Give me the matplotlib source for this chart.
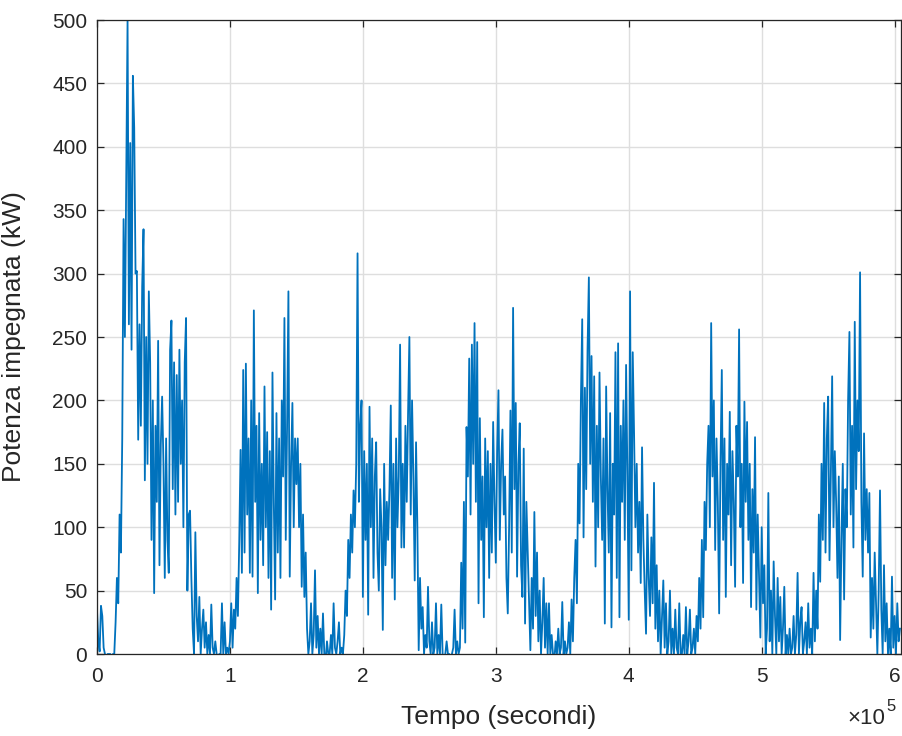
import numpy as np
import matplotlib.pyplot as plt

# potenza impegnata (kW), un campione ogni 1000 s (letto a mano dal grafico)
power = [
    35, 10, 2, 38, 30, 5, 0, -5, 0, 0,
    0, -3, 0, 0, 25, 60, 40, 110, 80, 170,
    343, 250, 380, 500, 260, 403, 240, 456, 415, 300,
    302, 169, 260, 180, 290, 335, 137, 250, 150, 286,
    230, 90, 200, 48, 180, 120, 247, 70, 165, 203,
    150, 60, 170, 90, 64, 240, 263, 130, 230, 110,
    220, 120, 240, 150, 200, 100, 230, 265, 50, 110,
    113, 60, 20, 0, 96, 30, 10, 45, 0, 20,
    35, 5, 25, 0, 15, 0, 39, 5, 0, 10,
    0, -5, 0, 0, 40, 0, 25, 0, 5, 0,
    10, 40, 5, 35, 20, 60, 30, 88, 161, 64,
    224, 80, 229, 110, 170, 64, 200, 61, 271, 120,
    180, 48, 190, 90, 150, 70, 211, 100, 175, 60,
    160, 35, 222, 120, 43, 190, 80, 170, 60, 200,
    140, 265, 90, 180, 286, 61, 150, 198, 100, 170,
    134, 170, 100, 150, 53, 110, 45, 80, 20, 0,
    10, 40, 0, 15, 66, 5, 30, 0, 20, 0,
    32, 0, -5, 10, 0, 0, 15, 0, 40, 5,
    0, 10, 25, 0, 5, 0, 15, 50, 30, 90,
    60, 110, 80, 129, 100, 150, 316, 120, 180, 200,
    45, 160, 90, 150, 31, 195, 100, 170, 60, 140,
    167, 80, 50, 130, 100, 19, 150, 70, 120, 90,
    130, 196, 60, 150, 43, 170, 100, 140, 244, 84,
    150, 84, 180, 120, 190, 250, 110, 200, 140, 58,
    167, 100, 3, 60, 20, 37, 0, 15, 5, 53,
    10, 0, 25, 0, 5, 40, 0, 15, 0, 39,
    0, -5, 0, 10, 0, 0, -5, 0, 5, 35,
    0, 10, 0, 5, 72, 20, 120, 9, 179, 140,
    233, 110, 244, 150, 261, 120, 246, 40, 186, 90,
    140, 29, 170, 100, 160, 60, 150, 80, 183, 120,
    72, 160, 208, 90, 150, 177, 110, 140, 60, 32,
    100, 192, 80, 273, 130, 198, 61, 150, 182, 70,
    45, 162, 24, 120, 80, 40, 3, 60, 20, 112,
    30, 80, 10, 50, 0, 25, 60, 5, 40, 0,
    40, 0, 15, 0, -5, 10, 0, 20, 0, 5,
    41, 0, 10, 0, 5, 25, 0, 43, 10, 60,
    90, 40, 150, 103, 200, 264, 92, 210, 130, 240,
    297, 150, 235, 120, 219, 69, 180, 100, 222, 140,
    90, 170, 24, 211, 130, 80, 190, 21, 150, 110,
    238, 60, 245, 29, 180, 120, 200, 90, 228, 140,
    27, 286, 66, 238, 174, 100, 150, 80, 120, 56,
    163, 90, 50, 16, 110, 60, 30, 92, 40, 135,
    20, 70, 10, 50, 0, 30, 58, 5, 40, 0,
    10, 50, 0, 20, 0, 35, 5, 0, 40, 0,
    0, 15, 0, 37, 0, 10, 35, 0, 5, 20,
    0, 30, 10, 60, 20, 90, 29, 120, 82, 150,
    180, 100, 261, 140, 200, 82, 170, 120, 32, 150,
    224, 90, 170, 45, 150, 110, 191, 70, 160, 120,
    53, 180, 140, 256, 100, 150, 56, 199, 120, 183,
    90, 150, 37, 130, 80, 171, 35, 110, 60, 13,
    100, 40, 70, 0, 20, 127, 10, 50, 0, 73,
    30, 0, 60, 10, 45, 0, 20, 53, 0, 15,
    0, 20, 0, 5, 30, 0, 15, 64, 0, 25,
    37, 0, 10, 25, 0, 40, 5, 20, 0, 64,
    10, 50, 20, 110, 57, 150, 90, 198, 80, 170,
    203, 74, 140, 219, 100, 160, 120, 60, 140, 11,
    90, 150, 43, 130, 100, 200, 254, 110, 180, 84,
    262, 130, 200, 160, 301, 120, 61, 174, 90, 130,
    80, 127, 13, 60, 20, 80, 40, 0, 50, 129,
    35, 0, 70, 10, 40, 0, 20, 0, 61, 5,
    30, 0, 40, 10, 20,
]
tempo = np.arange(len(power)) * 1000  # secondi
xticks = [0, 1, 2, 3, 4, 5, 6]
yticks = [0, 50, 100, 150, 200, 250, 300, 350, 400, 450, 500]

plt.rcParams['font.family'] = ['Liberation Sans', 'DejaVu Sans']
txt = '#262626'

fig = plt.figure(figsize=(9.03, 7.36), dpi=100)
ax = fig.add_axes([0.1074, 0.1114, 0.8904, 0.8614])
ax.plot(tempo, power, color='#0072BD', linewidth=1.3)

ax.set_xlim(0, 604800)
ax.set_ylim(0, 500)
ax.set_xticks([v * 1e5 for v in xticks])
ax.set_xticklabels([str(v) for v in xticks])
ax.set_yticks(yticks)
ax.grid(True, color='#dedede', linewidth=1.0)
ax.set_axisbelow(True)
ax.tick_params(direction='in', length=5, width=0.9, top=True, right=True,
               labelsize=15, colors=txt)
ax.tick_params(axis='x', pad=9)
ax.tick_params(axis='y', pad=7)
for s in ax.spines.values():
    s.set_color(txt)
    s.set_linewidth(0.9)

ax.set_xlabel('Tempo (secondi)', fontsize=19, color=txt)
ax.set_ylabel('Potenza impegnata (kW)', fontsize=19, color=txt)
ax.xaxis.set_label_coords(0.5, -0.08)
ax.yaxis.set_label_coords(-0.088, 0.5)

# moltiplicatore asse x stile MATLAB
ax.text(0.980, -0.101, '\u00d710', transform=ax.transAxes, ha='right', va='center',
        fontsize=16, color=txt)
ax.text(0.982, -0.083, '5', transform=ax.transAxes, ha='left', va='center',
        fontsize=12, color=txt)

plt.savefig('out.png', dpi=100)
